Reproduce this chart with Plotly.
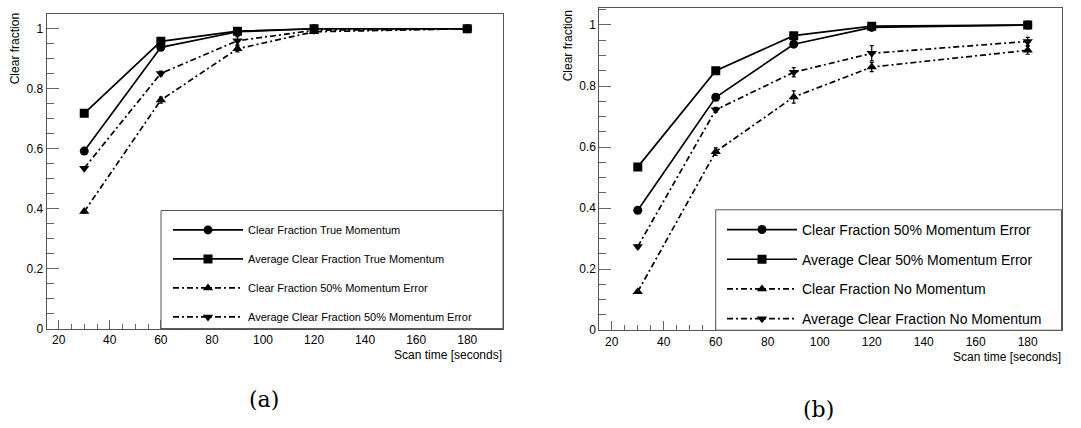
import plotly.graph_objects as go

# ---------------- data ----------------
scan_time = [30, 60, 90, 120, 180]

# panel (a)
a_names = ["Clear Fraction True Momentum",
           "Average Clear Fraction True Momentum",
           "Clear Fraction 50% Momentum Error",
           "Average Clear Fraction 50% Momentum Error"]
a_cf_true = [0.592, 0.938, 0.990, 1.000, 1.000]
a_avg_true = [0.718, 0.958, 0.992, 1.000, 1.000]
a_cf_50 = [0.390, 0.762, 0.933, 0.990, 1.000]
a_avg_50 = [0.535, 0.851, 0.960, 0.995, 1.000]
a_err_cf_true = [0.004, 0.006, 0.004, 0.001, 0.0]
a_err_avg_true = [0.003, 0.004, 0.003, 0.001, 0.0]
a_err_cf_50 = [0.005, 0.010, 0.010, 0.004, 0.0]
a_err_avg_50 = [0.005, 0.008, 0.014, 0.004, 0.0]

# panel (b)
b_names = ["Clear Fraction 50% Momentum Error",
           "Average Clear 50% Momentum Error",
           "Clear Fraction No Momentum",
           "Average Clear Fraction No Momentum"]
b_cf_50 = [0.393, 0.763, 0.937, 0.992, 1.000]
b_avg_50 = [0.535, 0.850, 0.965, 0.996, 1.000]
b_cf_no = [0.126, 0.585, 0.764, 0.862, 0.917]
b_avg_no = [0.274, 0.722, 0.845, 0.907, 0.946]
b_err_cf_50 = [0.004, 0.010, 0.010, 0.003, 0.0]
b_err_avg_50 = [0.003, 0.005, 0.006, 0.003, 0.0]
b_err_cf_no = [0.005, 0.012, 0.020, 0.015, 0.013]
b_err_avg_no = [0.005, 0.008, 0.015, 0.025, 0.013]

x_ticks = [20, 40, 60, 80, 100, 120, 140, 160, 180]
y_ticks = [0, 0.2, 0.4, 0.6, 0.8, 1]
y_tick_text = ["0", "0.2", "0.4", "0.6", "0.8", "1"]

# ---------------- style ----------------
FONT = "Liberation Sans"
SERIF = "DejaVu Serif"
W, H = 1081, 428
symbols = ["circle", "square", "triangle-up", "triangle-down"]
dashes = ["solid", "solid", "6px,3px,2px,3px", "6px,3px,2px,3px"]

fig = go.Figure()

def add_panel(names, ys, errs, xa, ya, legend):
    for i, (nm, y, e) in enumerate(zip(names, ys, errs)):
        fig.add_trace(go.Scatter(
            x=scan_time, y=y, name=nm, mode="lines+markers",
            xaxis=xa, yaxis=ya, legend=legend, legendgroup=f"{legend}{i}",
            line=dict(color="black", width=1.7, dash=dashes[i]),
            marker=dict(symbol=symbols[i], size=9, color="black"),
            error_y=dict(type="data", array=e, color="black", thickness=1.2, width=2),
        ))

add_panel(a_names, [a_cf_true, a_avg_true, a_cf_50, a_avg_50],
          [a_err_cf_true, a_err_avg_true, a_err_cf_50, a_err_avg_50], "x", "y", "legend")
add_panel(b_names, [b_cf_50, b_avg_50, b_cf_no, b_avg_no],
          [b_err_cf_50, b_err_avg_50, b_err_cf_no, b_err_avg_no], "x2", "y2", "legend2")

# panel frames (pixel -> paper)
def px(v):
    return v / W
def py(v):
    return 1 - v / H

a_dom_x = [px(46.7), px(503)]
a_dom_y = [py(334), py(14)]
b_dom_x = [px(599.3), px(1061.5)]
b_dom_y = [py(335.7), py(8.3)]

def xaxis(dom, rng, anchor):
    return dict(domain=dom, range=rng, anchor=anchor, showline=True, mirror=True,
                linecolor="#555", linewidth=1, ticks="inside", ticklen=9, tickwidth=1,
                tickcolor="#666", tickvals=x_ticks, showgrid=False, zeroline=False,
                ticklabelstandoff=0,
                tickfont=dict(family=FONT, size=12, color="black"),
                minor=dict(dtick=5, tick0=0, ticks="inside", ticklen=5, tickcolor="#666", showgrid=False))

def yaxis(dom, rng, anchor):
    return dict(domain=dom, range=rng, anchor=anchor, showline=True, mirror=True,
                linecolor="#555", linewidth=1, ticks="inside", ticklen=12, tickwidth=1,
                tickcolor="#666", tickvals=y_ticks, ticktext=y_tick_text, showgrid=False,
                zeroline=False, tickfont=dict(family=FONT, size=12, color="black"),
                minor=dict(dtick=0.05, tick0=0, ticks="inside", ticklen=7, tickcolor="#666", showgrid=False))

legend_common = dict(bgcolor="rgba(0,0,0,0)", borderwidth=0, xanchor="left", yanchor="top",
                     itemwidth=70)

fig.update_layout(
    width=W, height=H, margin=dict(l=0, r=0, t=0, b=0),
    paper_bgcolor="white", plot_bgcolor="white", showlegend=True,
    xaxis=xaxis(a_dom_x, [15.3, 194], "y"),
    yaxis=yaxis(a_dom_y, [0, 1.05], "x"),
    xaxis2=xaxis(b_dom_x, [15.2, 193], "y2"),
    yaxis2=yaxis(b_dom_y, [0, 1.055], "x2"),
    legend=dict(legend_common, x=px(168), y=py(219), tracegroupgap=10,
                font=dict(family=FONT, size=11, color="black")),
    legend2=dict(legend_common, x=px(722), y=py(217.5), tracegroupgap=8.5,
                 font=dict(family=FONT, size=14, color="black")),
    shapes=[
        dict(type="rect", xref="paper", yref="paper", x0=px(161), x1=a_dom_x[1], y0=a_dom_y[0], y1=py(214),
             fillcolor="white", line=dict(color="#555", width=1), layer="above"),
        dict(type="rect", xref="paper", yref="paper", x0=px(715.7), x1=b_dom_x[1], y0=b_dom_y[0], y1=py(213.3),
             fillcolor="white", line=dict(color="#555", width=1), layer="above"),
    ],
    annotations=[
        dict(text="Clear fraction", textangle=-90, xref="paper", yref="paper", x=px(15), y=py(12),
             xanchor="center", yanchor="top", showarrow=False, font=dict(family=FONT, size=12, color="black")),
        dict(text="Clear fraction", textangle=-90, xref="paper", yref="paper", x=px(568), y=py(9),
             xanchor="center", yanchor="top", showarrow=False, font=dict(family=FONT, size=12, color="black")),
        dict(text="Scan time [seconds]", xref="paper", yref="paper", x=a_dom_x[1], y=py(353),
             xanchor="right", yanchor="top", showarrow=False, borderpad=0,
             font=dict(family=FONT, size=12, color="black")),
        dict(text="Scan time [seconds]", xref="paper", yref="paper", x=b_dom_x[1], y=py(355),
             xanchor="right", yanchor="top", showarrow=False, borderpad=0,
             font=dict(family=FONT, size=12, color="black")),
        dict(text="(a)", xref="paper", yref="paper", x=px(264), y=py(406),
             xanchor="center", yanchor="middle", showarrow=False,
             font=dict(family=SERIF, size=22, color="black")),
        dict(text="(b)", xref="paper", yref="paper", x=px(818), y=py(416),
             xanchor="center", yanchor="middle", showarrow=False,
             font=dict(family=SERIF, size=22, color="black")),
    ],
)

fig.write_html("out.html")
